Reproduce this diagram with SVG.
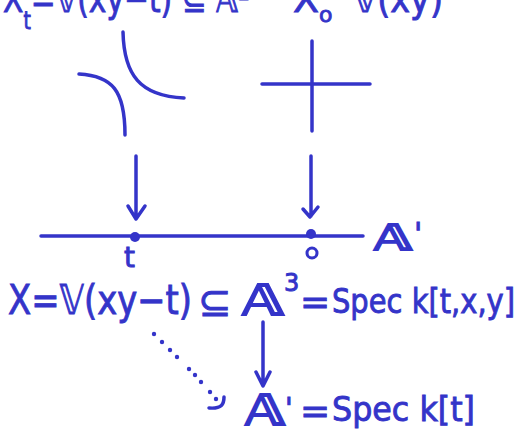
<svg xmlns="http://www.w3.org/2000/svg" width="522" height="432" viewBox="0 0 522 432">
<style>
.ln{stroke:#3434c9;stroke-width:3.5;fill:none;stroke-linecap:round;stroke-linejoin:round}
.tx{fill:#3434c9;stroke:#3434c9;stroke-width:0.9;font-family:"DejaVu Sans","Liberation Sans",sans-serif}
.bb{stroke-width:2}
</style>
<rect width="522" height="432" fill="#fff"/>
<g id="top-labels">
<text class="tx" x="3" y="12" font-size="38" textLength="247" lengthAdjust="spacingAndGlyphs">X<tspan font-size="24" dy="17">t</tspan><tspan dy="-17">=𝕍(xy−t) ⊆ 𝔸²</tspan></text>
<text class="tx" x="293" y="12" font-size="38">X<tspan font-size="22" dy="10">o</tspan></text>
<text class="tx" x="353" y="12" font-size="38" textLength="90" lengthAdjust="spacingAndGlyphs">𝕍(xy)</text>
</g>
<g id="hyperbola">
<path class="ln" d="M123,32 C124,75 140,96 184,98"/>
<path class="ln" d="M79,74 C112,76 125,90 125,135"/>
</g>
<g id="cross">
<path class="ln" d="M262,84 L370,84 M312,41 L312,131"/>
</g>
<g id="line">
<path class="ln" d="M41,236 L363,236"/>
<circle cx="135" cy="237" r="5" fill="#3434c9"/>
<circle cx="311" cy="234" r="5" fill="#3434c9"/>
<text class="tx" x="124" y="267" font-size="28">t</text>
<circle class="ln" cx="312" cy="253" r="5" style="stroke-width:3"/>
<text class="tx bb" x="374" y="250" font-size="36" textLength="38" lengthAdjust="spacingAndGlyphs">𝔸</text>
<text class="tx" x="414" y="244" font-size="30">'</text>
</g>
<g id="connectors">
<path class="ln" d="M136,156 L136,218 M128,206 L136,219 L145,206"/>
<path class="ln" d="M311,156 L311,216 M303,209 L310,217 L318,207"/>
<path class="ln" d="M263,322 L263,385 M256,372 L263,386 L270,372"/>
<g fill="#3434c9">
<circle cx="154" cy="334" r="2.2"/><circle cx="162" cy="342" r="2.2"/><circle cx="170" cy="350" r="2.2"/><circle cx="177" cy="357" r="2.2"/><circle cx="189" cy="369" r="2.2"/><circle cx="195" cy="375" r="2.2"/><circle cx="201" cy="382" r="2.2"/><circle cx="210" cy="392" r="2.2"/><circle cx="216" cy="399" r="2.2"/>
</g>
<path class="ln" d="M224,397 C224,404 222,409 209,408"/>
</g>
<g id="X-label">
<text class="tx" x="8" y="314" font-size="40" textLength="184" lengthAdjust="spacingAndGlyphs">X=𝕍(xy−t)</text>
<text class="tx" x="198" y="316" font-size="40">⊆</text>
<text class="tx bb" x="242" y="315" font-size="42" textLength="42" lengthAdjust="spacingAndGlyphs">𝔸</text>
<text class="tx" x="284" y="291" font-size="24">3</text>
<text class="tx" x="300" y="314" font-size="36">=</text>
<text class="tx" x="332" y="313" font-size="34" textLength="183" lengthAdjust="spacingAndGlyphs">Spec k[t,x,y]</text>
</g>
<g id="A1-label">
<text class="tx bb" x="245" y="425" font-size="42" textLength="40" lengthAdjust="spacingAndGlyphs">𝔸</text>
<text class="tx" x="285" y="418" font-size="28">'</text>
<text class="tx" x="300" y="423" font-size="36">=</text>
<text class="tx" x="332" y="421" font-size="34" textLength="143" lengthAdjust="spacingAndGlyphs">Spec k[t]</text>
</g>
</svg>
